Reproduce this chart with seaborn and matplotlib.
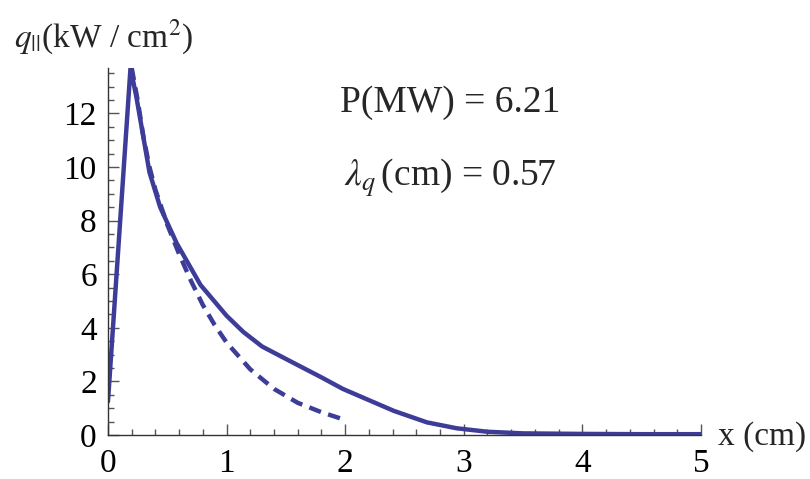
import matplotlib
matplotlib.use("Agg")
import matplotlib.pyplot as plt
import seaborn as sns
import pandas as pd
from matplotlib.ticker import MultipleLocator

# Data
solid_x = [0.0, 0.19, 0.24, 0.35, 0.44, 0.58, 0.78, 1.0, 1.14, 1.3, 1.56, 1.8, 1.98, 2.2, 2.41, 2.69, 2.94, 3.2, 3.5, 4.0, 4.5, 5.0]
solid_y = [1.25, 13.7, 12.6, 9.8, 8.5, 7.15, 5.6, 4.45, 3.85, 3.3, 2.7, 2.15, 1.72, 1.3, 0.9, 0.47, 0.25, 0.12, 0.06, 0.04, 0.03, 0.03]
dash_x = [0.2, 0.25, 0.3, 0.35, 0.4, 0.5, 0.6, 0.7, 0.8, 0.9, 1.0, 1.2, 1.4, 1.6, 1.8, 2.0]
dash_y = [13.7, 12.5, 11.1, 10.0, 9.15, 7.85, 6.75, 5.75, 4.85, 4.1, 3.45, 2.45, 1.72, 1.2, 0.85, 0.56]
x_ticks = [0, 1, 2, 3, 4, 5]
y_ticks = [0, 2, 4, 6, 8, 10, 12]
annot_P = "P(MW) = 6.21"
annot_L = r"$\lambda_q\,$(cm) = 0.57"

sns.set_style("ticks")
plt.rcParams["font.family"] = ["Liberation Serif", "DejaVu Serif"]
plt.rcParams["mathtext.fontset"] = "stix"

color = "#3d3d99"
fig = plt.figure(figsize=(8.1, 4.79), dpi=100)
ax = fig.add_axes([0.1333, 0.0919, 0.7321, 0.7665])

df_s = pd.DataFrame({"x": solid_x, "y": solid_y})
df_d = pd.DataFrame({"x": dash_x, "y": dash_y})
sns.lineplot(data=df_s, x="x", y="y", ax=ax, color=color, lw=3.2, sort=False)
sns.lineplot(data=df_d, x="x", y="y", ax=ax, color=color, lw=3.2, sort=False)
ax.get_lines()[-1].set_dashes((2.8, 1.7))
ax.get_lines()[-1].set_dash_capstyle("butt")

ax.set_xlim(0, 5)
ax.set_ylim(0, 13.7)
ax.set_xticks(x_ticks)
ax.set_yticks(y_ticks)
ax.xaxis.set_minor_locator(MultipleLocator(0.2))
ax.yaxis.set_minor_locator(MultipleLocator(0.5))
ax.tick_params(which="major", direction="in", length=8, width=1, color="#555555",
               labelsize=24, pad=8)
ax.tick_params(which="minor", direction="in", length=4, width=1, color="#555555")
ax.tick_params(axis="x", which="major", pad=10)
for s in ["top", "right"]:
    ax.spines[s].set_visible(False)
for s in ["left", "bottom"]:
    ax.spines[s].set_color("#333333")
    ax.spines[s].set_linewidth(1)
ax.set_xlabel("")
ax.set_ylabel("")
for lab in ax.get_xticklabels() + ax.get_yticklabels():
    lab.set_color("black")

fig.text(14 / 810, 1 - 37 / 479, r"$q_{||}$(kW / cm$^2$)", fontsize=24, ha="left", va="center")
fig.text(718 / 810, 1 - 437 / 479, "x (cm)", fontsize=24, ha="left", va="center")
ax.text(450 / 810, 1 - 103 / 479, annot_P, transform=fig.transFigure, fontsize=27, ha="center", va="center")
ax.text(450 / 810, 1 - 178 / 479, annot_L, transform=fig.transFigure, fontsize=27, ha="center", va="center")

fig.savefig("out.png", dpi=100)
